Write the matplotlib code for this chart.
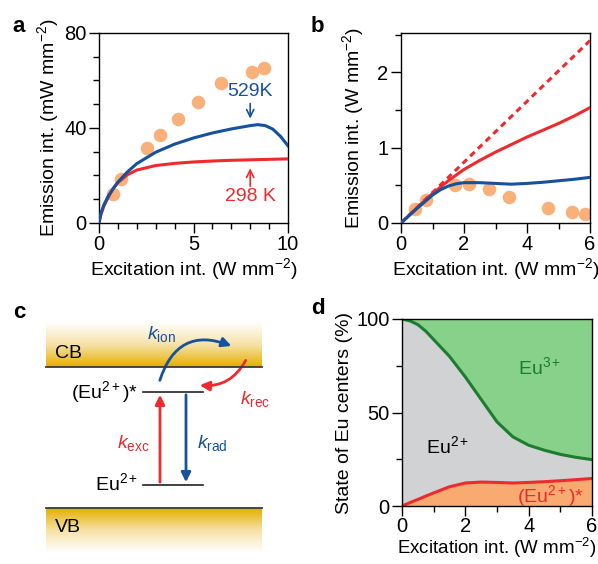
import numpy as np
import matplotlib.pyplot as plt
from matplotlib.colors import LinearSegmentedColormap
from matplotlib.patches import FancyArrowPatch
from matplotlib.ticker import MultipleLocator

plt.rcParams['font.family'] = 'Liberation Sans'
plt.rcParams['mathtext.fontset'] = 'custom'
plt.rcParams['mathtext.rm'] = 'Liberation Sans'
plt.rcParams['mathtext.it'] = 'Liberation Sans:italic'
plt.rcParams['mathtext.default'] = 'regular'
plt.rcParams['font.size'] = 13

# Colours
RED = '#ee2a2e'
BLUE = '#16519c'
DOT = '#f9b07a'
GREEN_LINE = '#1c7d2e'
GREEN_FILL = '#88d18b'
GRAY_FILL = '#d1d2d4'
ORANGE_FILL = '#f9aa70'
GOLD = '#e5b000'

# ---- panel a data ----
a_dots_x = [0.74, 1.15, 2.56, 3.21, 4.18, 5.24, 6.47, 8.1, 8.73]
a_dots_y = [12.2, 18.5, 31.6, 37.2, 43.9, 50.8, 58.8, 63.6, 65.2]
a_blue_x = [0, 0.1, 0.25, 0.5, 0.75, 1, 1.5, 2, 3, 4, 5, 6, 7, 8, 8.4, 8.8, 9.2, 9.6, 10]
a_blue_y = [0, 4, 7.5, 11.5, 14.5, 17.2, 21.5, 25, 29.8, 33.2, 35.8, 37.9, 39.6, 41, 41.4, 41, 39.5, 36.5, 32.5]
a_red_x = [0, 0.1, 0.25, 0.5, 0.75, 1, 1.5, 2, 3, 4, 5, 6, 7, 8, 9, 10]
a_red_y = [0, 3.5, 7, 11, 14.5, 17, 20.3, 22.3, 24.2, 25.1, 25.7, 26.1, 26.4, 26.6, 26.8, 27]

# ---- panel b data ----
b_dots_x = [0.45, 0.8, 1.72, 2.16, 2.78, 3.44, 4.68, 5.42, 5.84]
b_dots_y = [0.18, 0.30, 0.50, 0.52, 0.45, 0.34, 0.195, 0.14, 0.12]
b_lin_x = [0, 6]
b_lin_y = [0, 2.42]
b_red_x = [0, 0.5, 1, 1.5, 2, 2.5, 3, 3.5, 4, 4.5, 5, 5.5, 6]
b_red_y = [0, 0.2, 0.39, 0.56, 0.71, 0.83, 0.94, 1.04, 1.14, 1.23, 1.32, 1.42, 1.53]
b_blue_x = [0, 0.5, 1, 1.25, 1.5, 1.75, 2, 2.5, 3, 3.5, 4, 4.5, 5, 5.5, 6]
b_blue_y = [0, 0.19, 0.37, 0.44, 0.49, 0.52, 0.535, 0.535, 0.525, 0.515, 0.525, 0.54, 0.56, 0.58, 0.605]

# ---- panel d data ----
d_x = [0, 0.25, 0.5, 0.75, 1, 1.5, 2, 2.5, 3, 3.5, 4, 4.5, 5, 5.5, 6]
d_eu2_top = [100, 99, 97, 93.5, 89, 80, 69, 57, 45, 37, 32.5, 29.8, 27.6, 26, 24.8]
d_excited = [0, 1.8, 3.5, 5.3, 7, 10.3, 12.3, 12.8, 12.6, 12.3, 12.6, 13, 13.5, 14.1, 14.7]

fig = plt.figure(figsize=(5.98, 5.64), dpi=100)
W, H = 598, 564


def px_axes(left, top, right, bottom):
    return fig.add_axes([left / W, 1 - bottom / H, (right - left) / W, (bottom - top) / H])


def style(ax):
    ax.tick_params(which='both', direction='out', width=1)
    ax.tick_params(which='major', length=7, labelsize=14.5, pad=2)
    ax.tick_params(which='minor', length=4.5)
    for s in ax.spines.values():
        s.set_linewidth(1)


xlab = r'Excitation int. (W mm$^{-2}$)'

# a
ax = px_axes(99, 33, 288, 223)
ax.scatter(a_dots_x, a_dots_y, s=95, color=DOT, zorder=2, linewidths=0)
ax.plot(a_red_x, a_red_y, color=RED, lw=2.2, zorder=3)
ax.plot(a_blue_x, a_blue_y, color=BLUE, lw=2.2, zorder=4)
ax.set_xlim(0, 10)
ax.set_ylim(0, 80)
ax.xaxis.set_major_locator(MultipleLocator(5))
ax.xaxis.set_minor_locator(MultipleLocator(1))
ax.yaxis.set_major_locator(MultipleLocator(40))
ax.yaxis.set_minor_locator(MultipleLocator(10))
ax.set_xlabel(xlab, fontsize=14, labelpad=1)
ax.set_ylabel(r'Emission int. (mW mm$^{-2}$)', fontsize=14, labelpad=2)
ax.text(8.0, 55.5, '529K', color=BLUE, fontsize=14, ha='center', va='center')
ax.annotate('', xy=(8.0, 42.8), xytext=(8.0, 51.5),
            arrowprops=dict(arrowstyle='->', color=BLUE, lw=1.2))
ax.text(8.0, 11.2, '298 K', color=RED, fontsize=14, ha='center', va='center')
ax.annotate('', xy=(8.0, 24.2), xytext=(8.0, 14.3),
            arrowprops=dict(arrowstyle='->', color=RED, lw=1.2))
style(ax)
fig.text(12 / W, 1 - 27 / H, 'a', fontsize=16, fontweight='bold', va='center')

# b
ax = px_axes(401, 33, 590, 223)
ax.scatter(b_dots_x, b_dots_y, s=95, color=DOT, zorder=2, linewidths=0)
ax.plot(b_lin_x, b_lin_y, color=RED, lw=2.2, ls=(0, (2, 1.5)), zorder=3)
ax.plot(b_red_x, b_red_y, color=RED, lw=2.2, zorder=3)
ax.plot(b_blue_x, b_blue_y, color=BLUE, lw=2.2, zorder=3)
ax.set_xlim(0, 6)
ax.set_ylim(0, 2.52)
ax.xaxis.set_major_locator(MultipleLocator(2))
ax.xaxis.set_minor_locator(MultipleLocator(1))
ax.yaxis.set_major_locator(MultipleLocator(1))
ax.yaxis.set_minor_locator(MultipleLocator(0.5))
ax.set_xlabel(xlab, fontsize=14, labelpad=1)
ax.set_ylabel(r'Emission int. (W mm$^{-2}$)', fontsize=14, labelpad=8)
style(ax)
fig.text(311 / W, 1 - 27 / H, 'b', fontsize=16, fontweight='bold', va='center')

# d
ax = px_axes(402, 319, 592, 506)
ax.fill_between(d_x, d_eu2_top, 100, color=GREEN_FILL, lw=0)
ax.fill_between(d_x, d_excited, d_eu2_top, color=GRAY_FILL, lw=0)
ax.fill_between(d_x, 0, d_excited, color=ORANGE_FILL, lw=0)
ax.plot(d_x, d_eu2_top, color=GREEN_LINE, lw=2.2)
ax.plot(d_x, d_excited, color=RED, lw=2.2)
ax.set_xlim(0, 6)
ax.set_ylim(0, 100)
ax.xaxis.set_major_locator(MultipleLocator(2))
ax.xaxis.set_minor_locator(MultipleLocator(1))
ax.yaxis.set_major_locator(MultipleLocator(50))
ax.yaxis.set_minor_locator(MultipleLocator(25))
ax.set_ylabel('State of Eu centers (%)', fontsize=14, labelpad=2)
ax.text(4.35, 74, r'Eu$^{3+}$', color=GREEN_LINE, fontsize=14, ha='center', va='center')
ax.text(1.45, 32, r'Eu$^{2+}$', color='black', fontsize=14, ha='center', va='center')
ax.text(4.7, 5.5, r'(Eu$^{2+}$)*', color=RED, fontsize=14, ha='center', va='center')
style(ax)
ax.tick_params(axis='x', which='major', pad=1)
ax.set_xlabel(xlab, fontsize=13.5, labelpad=0)
fig.text(311 / W, 1 - 308 / H, 'd', fontsize=16, fontweight='bold', va='center')

# c: energy diagram drawn in pixel-like coordinates
ax = fig.add_axes([0, 0, 300 / W, (564 - 282) / H])
ax.set_xlim(0, 300)
ax.set_ylim(564, 282)
ax.axis('off')
band = LinearSegmentedColormap.from_list('band', ['#ffffff', '#f6e2a8', GOLD])
grad = np.linspace(0, 1, 100).reshape(-1, 1)
ax.imshow(grad, cmap=band, extent=(46, 262, 367, 322), aspect='auto', origin='upper', zorder=0)
ax.imshow(grad[::-1], cmap=band, extent=(46, 262, 553, 508), aspect='auto', origin='upper', zorder=0)
ax.plot([46, 262], [367, 367], color='#3a3a3a', lw=1.3)
ax.plot([46, 262], [508, 508], color='#3a3a3a', lw=1.3)
ax.text(55, 353, 'CB', fontsize=14, va='center', ha='left')
ax.text(55, 528, 'VB', fontsize=14, va='center', ha='left')

ax.plot([143, 203], [392, 392], color='#222222', lw=1.2)
ax.plot([143, 203], [485, 485], color='#222222', lw=1.2)
ax.text(138, 392, r'(Eu$^{2+}$)*', fontsize=14, ha='right', va='center')
ax.text(138, 483, r'Eu$^{2+}$', fontsize=14, ha='right', va='center')

ax.add_patch(FancyArrowPatch((160, 485), (160, 392), arrowstyle='-|>', mutation_scale=14,
                             color=RED, lw=2))
ax.add_patch(FancyArrowPatch((186, 392), (186, 485), arrowstyle='-|>', mutation_scale=14,
                             color=BLUE, lw=2))
ax.text(150, 443, r'$\mathit{k}_{exc}$', color=RED, fontsize=14, ha='right', va='center')
ax.text(197, 443, r'$\mathit{k}_{rad}$', color=BLUE, fontsize=14, ha='left', va='center')

ax.add_patch(FancyArrowPatch((159, 383), (234, 347), connectionstyle='arc3,rad=-0.55',
                             arrowstyle='-|>', mutation_scale=14, color=BLUE, lw=2))
ax.text(162, 334, r'$\mathit{k}_{ion}$', color=BLUE, fontsize=14, ha='center', va='center')
ax.add_patch(FancyArrowPatch((247, 358), (197, 385), connectionstyle='arc3,rad=-0.35',
                             arrowstyle='-|>', mutation_scale=14, color=RED, lw=2))
ax.text(240, 399, r'$\mathit{k}_{rec}$', color=RED, fontsize=14, ha='left', va='center')
fig.text(13 / W, 1 - 312 / H, 'c', fontsize=16, fontweight='bold', va='center')

fig.savefig('out.png', dpi=100)
